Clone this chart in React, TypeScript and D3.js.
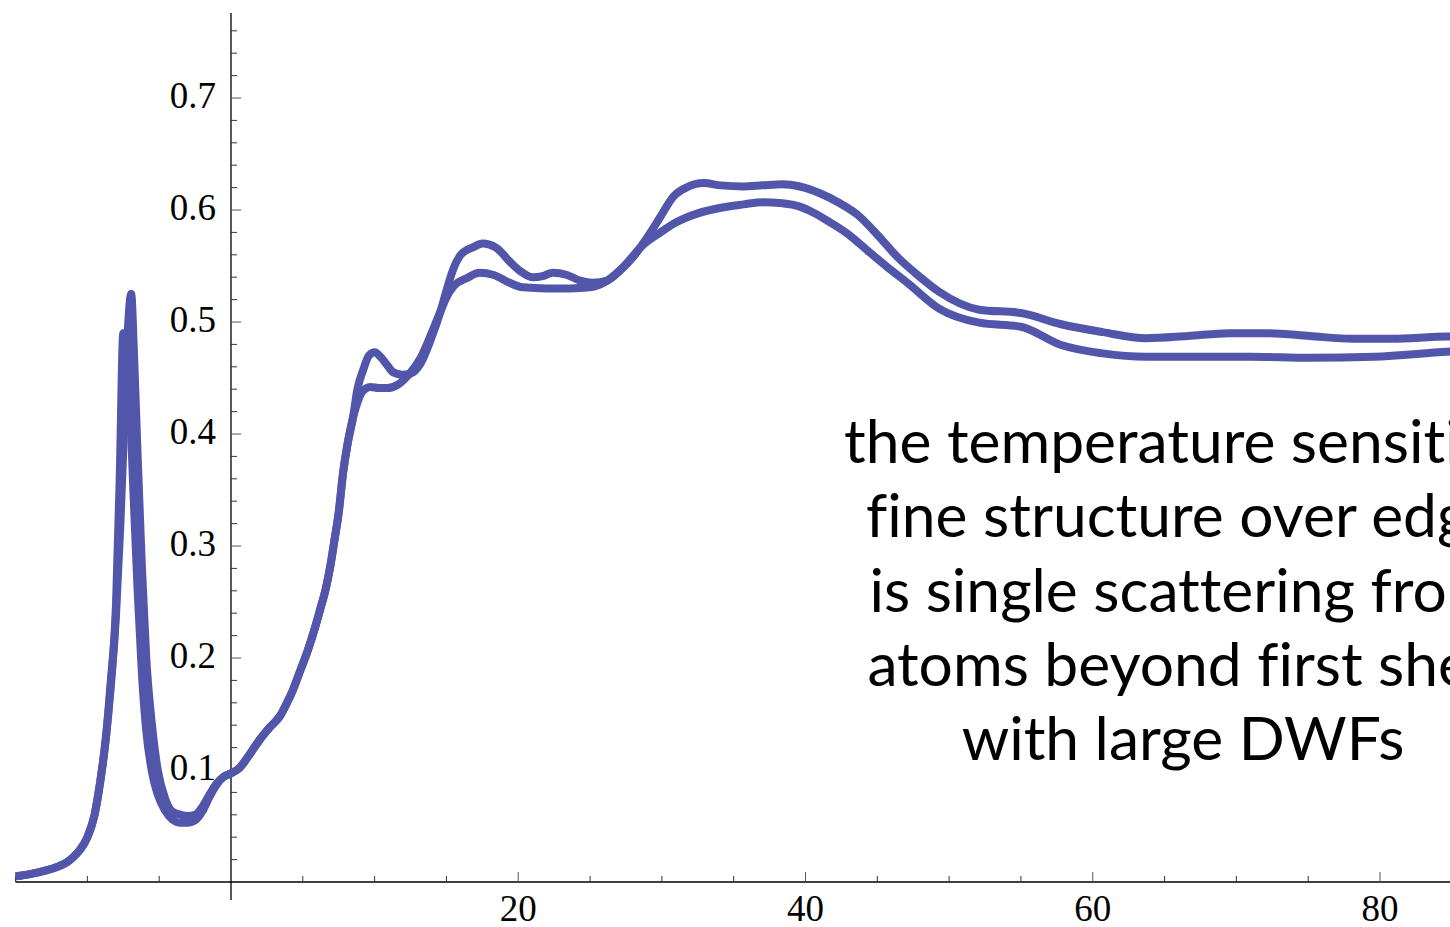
import React, { useEffect } from "react";
import * as d3 from "d3";

// curve A: the one with more structure
const xA = [-15, -14, -13, -12, -11.5, -11, -10.5, -10, -9.5, -9.1, -8.7, -8.4, -8.0, -7.7, -7.4, -7.15, -6.95, -6.75, -6.5, -6.2, -5.9, -5.5, -5.1, -4.6, -4.1, -3.5, -3.0, -2.5, -2.0, -1.5, -1.0, -0.5, 0, 0.6, 1.3, 2.0, 2.7, 3.4, 3.9, 4.3, 4.8, 5.3, 5.8, 6.2, 6.6, 6.9, 7.2, 7.5, 7.8, 8.1, 8.5, 8.8, 9.2, 9.6, 10.0, 10.4, 10.9, 11.3, 11.9, 12.5, 13.2, 13.9, 14.6, 15.0, 15.5, 16.0, 16.9, 17.5, 18.5, 19.4, 20.3, 21.0, 21.7, 22.4, 23.4, 24.3, 25.2, 26.2, 27.1, 28.0, 29.0, 29.9, 30.8, 31.7, 32.9, 34.1, 35.7, 37.0, 38.4, 39.6, 41.0, 42.4, 43.6, 45.0, 46.4, 47.8, 49.3, 52.1, 55.0, 57.8, 60.7, 63.7, 66.6, 69.5, 72.2, 75.1, 78.1, 80.8, 84.7, 87];
const yA = [0.005, 0.007, 0.010, 0.014, 0.017, 0.022, 0.029, 0.040, 0.060, 0.090, 0.130, 0.170, 0.240, 0.320, 0.420, 0.500, 0.525, 0.470, 0.380, 0.280, 0.200, 0.140, 0.100, 0.075, 0.063, 0.060, 0.059, 0.060, 0.067, 0.078, 0.088, 0.094, 0.097, 0.102, 0.114, 0.127, 0.138, 0.148, 0.160, 0.171, 0.188, 0.205, 0.225, 0.243, 0.262, 0.281, 0.305, 0.330, 0.365, 0.390, 0.415, 0.440, 0.457, 0.470, 0.473, 0.469, 0.461, 0.455, 0.453, 0.454, 0.463, 0.484, 0.510, 0.528, 0.548, 0.560, 0.567, 0.570, 0.566, 0.554, 0.544, 0.540, 0.541, 0.544, 0.542, 0.537, 0.535, 0.537, 0.546, 0.558, 0.576, 0.594, 0.612, 0.620, 0.624, 0.622, 0.621, 0.622, 0.623, 0.621, 0.615, 0.606, 0.596, 0.578, 0.558, 0.542, 0.527, 0.511, 0.508, 0.498, 0.491, 0.4855, 0.4875, 0.490, 0.490, 0.4875, 0.485, 0.485, 0.487, 0.487];

// curve B: the smoother one
const xB = [-15, -14, -13, -12, -11.5, -11, -10.5, -10, -9.5, -9.1, -8.7, -8.4, -8.0, -7.75, -7.5, -7.3, -7.05, -6.8, -6.5, -6.2, -5.9, -5.5, -5.1, -4.6, -4.1, -3.5, -3.0, -2.5, -2.0, -1.5, -1.0, -0.5, 0, 0.6, 1.3, 2.0, 2.7, 3.4, 3.9, 4.3, 4.8, 5.3, 5.8, 6.2, 6.6, 6.9, 7.2, 7.5, 7.8, 8.1, 8.5, 8.8, 9.1, 9.7, 10.3, 10.9, 11.6, 12.5, 13.2, 13.9, 14.6, 15.0, 15.5, 16.4, 17.3, 18.3, 19.4, 20.3, 22.0, 23.6, 25.0, 26.2, 27.3, 28.7, 29.9, 31.0, 32.5, 34.1, 35.7, 37.0, 38.4, 39.6, 40.5, 41.7, 42.9, 44.3, 45.7, 47.1, 49.3, 52.1, 55.0, 57.8, 60.7, 63.7, 66.6, 71.0, 75.1, 79.6, 84.7, 87];
const yB = [0.005, 0.007, 0.010, 0.014, 0.017, 0.022, 0.029, 0.040, 0.060, 0.090, 0.130, 0.175, 0.250, 0.360, 0.490, 0.480, 0.430, 0.350, 0.260, 0.185, 0.135, 0.098, 0.078, 0.064, 0.056, 0.053, 0.053, 0.055, 0.063, 0.076, 0.087, 0.094, 0.097, 0.102, 0.114, 0.127, 0.138, 0.148, 0.160, 0.171, 0.188, 0.205, 0.225, 0.243, 0.262, 0.281, 0.305, 0.330, 0.365, 0.390, 0.415, 0.428, 0.437, 0.442, 0.441, 0.441, 0.444, 0.455, 0.468, 0.488, 0.510, 0.522, 0.532, 0.539, 0.544, 0.542, 0.535, 0.531, 0.530, 0.530, 0.531, 0.537, 0.549, 0.569, 0.580, 0.589, 0.597, 0.602, 0.605, 0.607, 0.606, 0.603, 0.598, 0.589, 0.579, 0.564, 0.549, 0.535, 0.512, 0.4994, 0.4958, 0.4795, 0.472, 0.469, 0.469, 0.469, 0.468, 0.469, 0.4735, 0.475];

const xMajor = [20, 40, 60, 80];
const xMinor = [-15, -10, -5, 5, 10, 15, 25, 30, 35, 45, 50, 55, 65, 70, 75, 85];
const yMajor = [0.1, 0.2, 0.3, 0.4, 0.5, 0.6, 0.7];
const yMinor = d3.range(1, 39).map(i => +(i * 0.02).toFixed(2)).filter(v => Math.abs(v * 10 - Math.round(v * 10)) > 1e-6);

const noteLines = [
  "the temperature sensitive",
  "fine structure over edge",
  "is single scattering from",
  "atoms beyond first shell",
  "with large DWFs",
];

const W = 1450;
const H = 927;
const lineColor = "#5156aa";

export default function App() {
  useEffect(() => {
    document.body.style.margin = "0";
  }, []);

  const x = d3.scaleLinear().domain([0, 80]).range([231, 1380]);
  const y = d3.scaleLinear().domain([0, 0.7]).range([882, 98]);

  const line = d3.line<number[]>()
    .x(d => x(d[0]))
    .y(d => y(d[1]))
    .curve(d3.curveMonotoneX);

  const ptsA = xA.map((v, i) => [v, yA[i]]);
  const ptsB = xB.map((v, i) => [v, yB[i]]);

  const serif = "'Liberation Serif', 'Times New Roman', serif";

  return (
    <svg width={W} height={H} style={{ display: "block", background: "#fff" }}>
      {/* axes */}
      <line x1={x(-15)} x2={W} y1={y(0)} y2={y(0)} stroke="#000" strokeWidth={1.3} />
      <line x1={x(0)} x2={x(0)} y1={y(0.776)} y2={y(-0.016)} stroke="#000" strokeWidth={1.3} />

      {xMajor.map(v => (
        <line key={"xM" + v} x1={x(v)} x2={x(v)} y1={y(0)} y2={y(0) - 10} stroke="#555" strokeWidth={1} />
      ))}
      {xMinor.map(v => (
        <line key={"xm" + v} x1={x(v)} x2={x(v)} y1={y(0)} y2={y(0) - 6} stroke="#333" strokeWidth={1} />
      ))}
      {yMajor.map(v => (
        <line key={"yM" + v} x1={x(0)} x2={x(0) + 10} y1={y(v)} y2={y(v)} stroke="#555" strokeWidth={1} />
      ))}
      {yMinor.map(v => (
        <line key={"ym" + v} x1={x(0)} x2={x(0) + 6} y1={y(v)} y2={y(v)} stroke="#333" strokeWidth={1} />
      ))}

      {xMajor.map(v => (
        <text key={"xl" + v} x={x(v)} y={y(0) + 39} textAnchor="middle" fontFamily={serif} fontSize={37} fill="#000">
          {v}
        </text>
      ))}
      {yMajor.map(v => (
        <text key={"yl" + v} x={x(0) - 15} y={y(v) + 10} textAnchor="end" fontFamily={serif} fontSize={37} fill="#000">
          {v.toFixed(1)}
        </text>
      ))}

      {/* curves */}
      <path d={line(ptsB) || ""} fill="none" stroke={lineColor} strokeWidth={8} strokeLinejoin="round" />
      <path d={line(ptsA) || ""} fill="none" stroke={lineColor} strokeWidth={8} strokeLinejoin="round" />

      {/* annotation */}
      <text
        fontFamily="Lato, 'Open Sans', sans-serif"
        fontSize={60.5}
        fill="#000"
        textAnchor="middle"
        style={{ fontVariantLigatures: "none", fontFeatureSettings: "'liga' 0, 'clig' 0" }}
      >
        {noteLines.map((t, i) => (
          <tspan key={i} x={1183} y={463 + i * 74.3}>{t}</tspan>
        ))}
      </text>
    </svg>
  );
}
